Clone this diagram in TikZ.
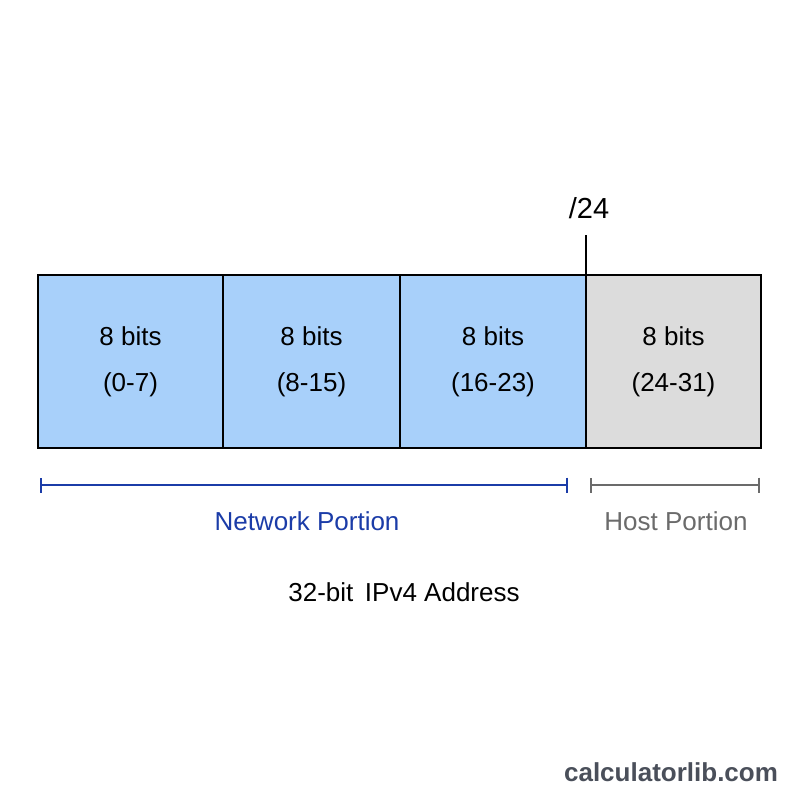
\documentclass[tikz,border=0pt]{standalone}
\usepackage{fontspec}
\setmainfont{Liberation Sans}
\usetikzlibrary{arrows.meta}
\definecolor{netfill}{HTML}{A8D0FA}
\definecolor{hostfill}{HTML}{DCDCDC}
\definecolor{netblue}{HTML}{1B3CA8}
\definecolor{hostgray}{HTML}{6B6B6B}
\definecolor{markgray}{HTML}{4A4F5A}
\begin{document}
\begin{tikzpicture}[
    x=1pt, y=-1pt,
    octet/.style={
        rectangle,
        draw=black,
        line width=1.6pt,
        minimum height=173pt,
        inner sep=0pt,
        outer sep=0pt,
        align=center,
        font=\fontsize{26}{46}\selectfont
    },
    span/.style={
        line width=1.8pt,
        {Bar[width=15pt]}-{Bar[width=15pt]}
    },
    label/.style={
        font=\fontsize{26}{30}\selectfont,
        inner sep=0pt
    }
]
    \useasboundingbox (0,0) rectangle (800,800);
    \fill[white] (0,0) rectangle (800,800);

    \foreach \name/\x/\w/\bits/\shade in {
        o1/130.5/185/0-7/netfill,
        o2/311.5/177/8-15/netfill,
        o3/493/186/16-23/netfill,
        o4/673.5/175/24-31/hostfill%
    } {
        \node[octet, fill=\shade, minimum width=\w pt] (\name) at (\x, 361.5) {8 bits\\(\bits)};
    }

    % prefix length marker
    \coordinate (tick) at (586, 235);
    \draw[line width=1.6pt] (o3.north east) -- (tick);
    \node[label, font=\fontsize{29}{32}\selectfont] (prefix) at (589, 208) {/24};

    % network and host spans
    \coordinate (netL) at (40, 485);
    \coordinate (netR) at (568, 485);
    \coordinate (hostL) at (590, 485);
    \coordinate (hostR) at (760, 485);
    \draw[span, netblue] (netL) -- (netR);
    \draw[span, hostgray] (hostL) -- (hostR);

    \node[label, text=netblue] (netlabel) at (307, 521) {Network Portion};
    \node[label, text=hostgray] (hostlabel) at (676, 521) {Host Portion};
    \node[label] (caption) at (404, 592) {32-bit\, IPv4 Address};
    \node[label, text=markgray, font=\fontsize{26}{30}\bfseries] (mark) at (671, 772) {calculatorlib.com};
\end{tikzpicture}
\end{document}
